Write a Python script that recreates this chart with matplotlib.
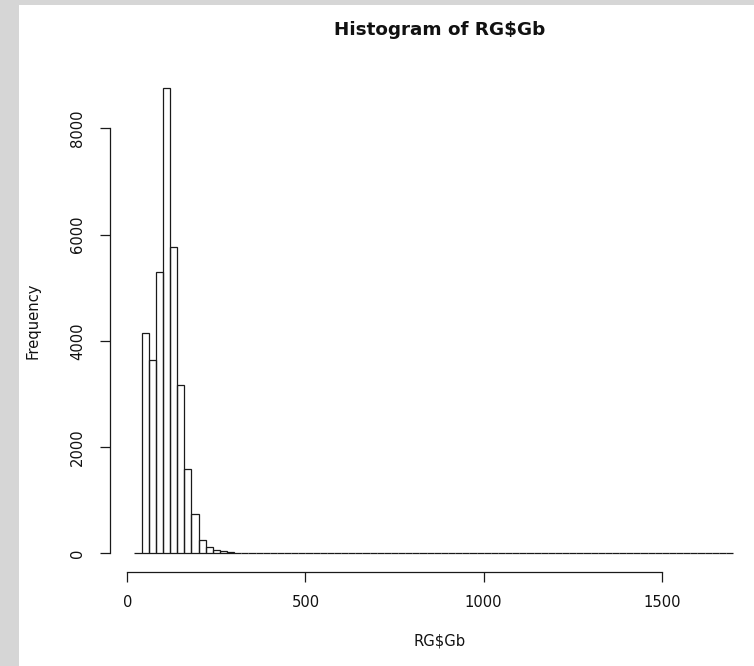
import matplotlib
matplotlib.use("Agg")
import matplotlib.pyplot as plt
from matplotlib.patches import Rectangle
import numpy as np

# ---- data ----
bin_start = 20
bin_width = 20
counts = [12, 4150, 3640, 5295, 8750, 5765, 3175, 1595, 735, 245,
          110, 70, 45, 25, 12] + [0] * 69          # bins 20..1700
x_ticks = [0, 500, 1000, 1500]
y_ticks = [0, 2000, 4000, 6000, 8000]
title = "Histogram of RG$Gb"
xlabel = "RG$Gb"
ylabel = "Frequency"

W, H, DPI = 754, 666, 100
fig = plt.figure(figsize=(W / DPI, H / DPI), dpi=DPI)
fig.patch.set_facecolor("white")

# textured slide border (approximated by flat gray)
fig.patches.append(Rectangle((0, 0), 19 / W, 1, transform=fig.transFigure,
                             facecolor="#d6d6d6", edgecolor="none", zorder=0))
fig.patches.append(Rectangle((0, 1 - 5 / H), 1, 5 / H, transform=fig.transFigure,
                             facecolor="#d6d6d6", edgecolor="none", zorder=0))

# plot region in pixels
left_px, right_px, top_px, bot_px = 110.5, 757.0, 69.9, 571.9
ax = fig.add_axes([left_px / W, (H - bot_px) / H,
                   (right_px - left_px) / W, (bot_px - top_px) / H])
ax.set_facecolor("none")

edges = bin_start + bin_width * np.arange(len(counts))
ax.bar(edges, counts, width=bin_width, align="edge", fill=False,
       edgecolor="#1a1a1a", linewidth=0.9)

# R-style 4% range extension
xmin, xmax = edges[0], edges[-1] + bin_width
xr = xmax - xmin
ymax = max(counts)
ax.set_xlim(xmin - 0.04 * xr, xmax + 0.04 * xr)
ax.set_ylim(-0.04 * ymax, ymax * 1.04)

for s in ["top", "right"]:
    ax.spines[s].set_visible(False)
ax.spines["left"].set_bounds(y_ticks[0], y_ticks[-1])
ax.spines["bottom"].set_bounds(x_ticks[0], x_ticks[-1])
for s in ["left", "bottom"]:
    ax.spines[s].set_linewidth(0.9)
    ax.spines[s].set_color("#1a1a1a")

ax.set_xticks(x_ticks)
ax.set_yticks(y_ticks)
ax.set_yticklabels([str(v) for v in y_ticks], rotation=90, va="center")
ax.tick_params(axis="both", length=7.5, width=0.9, color="#1a1a1a",
               labelsize=10.6, labelcolor="#111111", direction="out")
ax.tick_params(axis="x", pad=9)
ax.tick_params(axis="y", pad=11)

fig.text(440 / W, (H - 35) / H, title, ha="center", va="baseline",
         fontsize=13.2, fontweight="bold", color="#111111")
fig.text(440 / W, (H - 641) / H, xlabel, ha="center", va="center",
         fontsize=10.6, color="#111111")
fig.text(33 / W, (H - 321) / H, ylabel, ha="center", va="center",
         rotation=90, fontsize=10.6, color="#111111")

fig.savefig("out.png", dpi=DPI)
